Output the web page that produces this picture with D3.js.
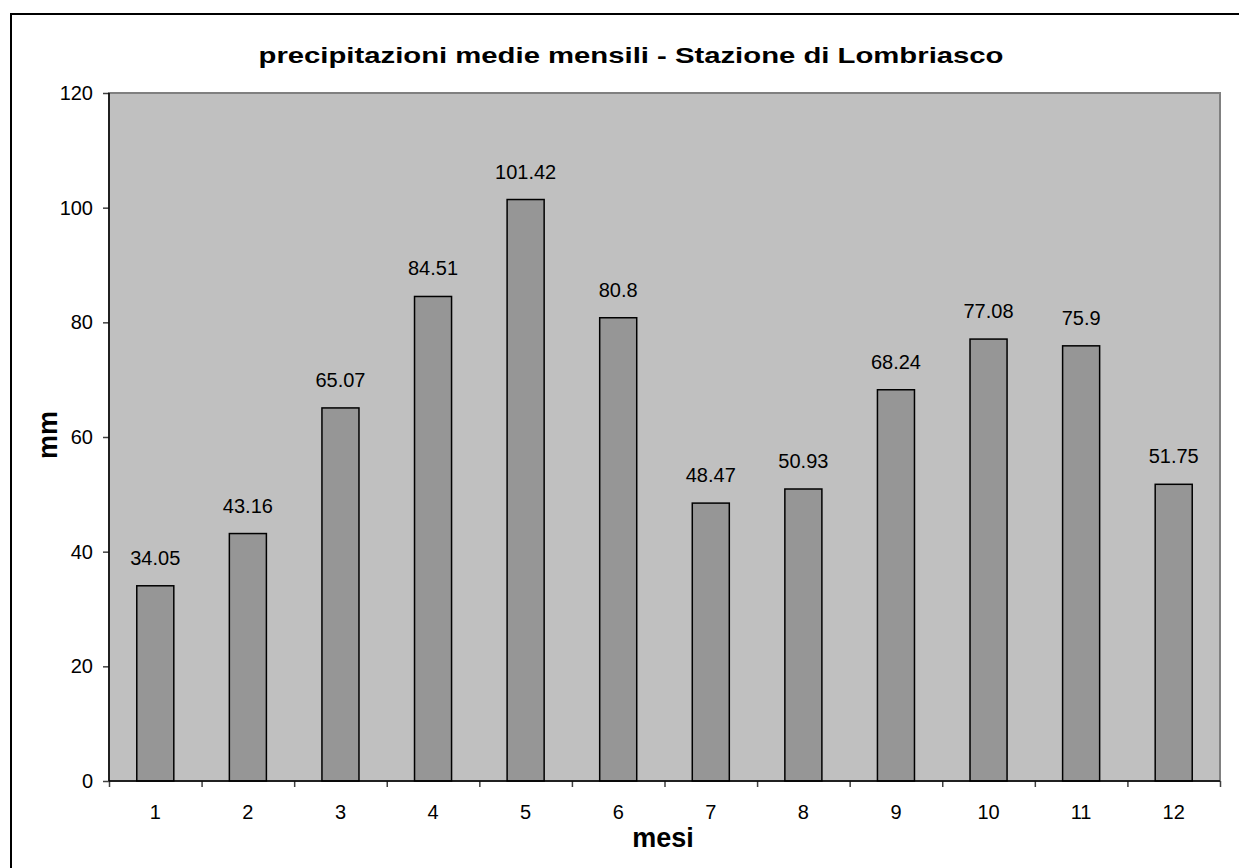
<!DOCTYPE html>
<html>
<head>
<meta charset="utf-8">
<script src="https://cdn.jsdelivr.net/npm/d3@7"></script>
<style>
    body { margin: 0; background: #ffffff; }
    text { font-family: 'Liberation Sans', Arial, sans-serif; fill: #000; }
</style>
</head>
<body>
<div id="graph"></div>
<script>
// The data...
var months    = [ '1', '2', '3', '4', '5', '6', '7', '8', '9', '10', '11', '12' ];
var rainfall  = [ 34.05, 43.16, 65.07, 84.51, 101.42, 80.8, 48.47, 50.93, 68.24, 77.08, 75.9, 51.75 ];
var rainLabel = [ '34.05', '43.16', '65.07', '84.51', '101.42', '80.8', '48.47', '50.93', '68.24', '77.08', '75.9', '51.75' ];
var yTicks    = [ 0, 20, 40, 60, 80, 100, 120 ];

var titleText = 'precipitazioni medie mensili - Stazione di Lombriasco';
var xTitle    = 'mesi';
var yTitle    = 'mm';

// SVG size and plot area
var W = 1239, H = 868;
var margin = { top: 93, right: 19, bottom: 87, left: 109 };
var width  = W - margin.left - margin.right;
var height = H - margin.top - margin.bottom;

var svg = d3.select('#graph').append('svg')
            .attr('width', W)
            .attr('height', H);

// outer chart frame (runs off the right and bottom edge)
svg.append('rect')
   .attr('x', 11).attr('y', 14)
   .attr('width', W).attr('height', H)
   .attr('fill', 'none')
   .attr('stroke', '#000')
   .attr('stroke-width', 2);

var g = svg.append('g')
           .attr('transform', 'translate(' + margin.left + ',' + margin.top + ')');

// scales
var xScale = d3.scaleBand()
               .domain(months)
               .range([0, width])
               .paddingInner(0.6)
               .paddingOuter(0.3);

var xEdge = d3.scaleLinear()
              .domain([0, months.length])
              .range([0, width]);

var yScale = d3.scaleLinear()
               .domain([0, 120])
               .range([height, 0]);

// plot area
g.append('rect')
 .attr('x', 0).attr('y', 0)
 .attr('width', width).attr('height', height)
 .attr('fill', '#c0c0c0')
 .attr('stroke', '#808080')
 .attr('stroke-width', 2);

// bars
g.selectAll('rect.bar')
 .data(rainfall)
 .enter()
 .append('rect')
 .attr('class', 'bar')
 .attr('x', function(d, i) { return xScale(months[i]); })
 .attr('y', function(d) { return yScale(d); })
 .attr('width', xScale.bandwidth())
 .attr('height', function(d) { return yScale(0) - yScale(d); })
 .attr('fill', '#969696')
 .attr('stroke', '#000')
 .attr('stroke-width', 1.5);

// value labels
g.selectAll('text.val')
 .data(rainfall)
 .enter()
 .append('text')
 .attr('class', 'val')
 .attr('x', function(d, i) { return xScale(months[i]) + xScale.bandwidth() / 2; })
 .attr('y', function(d) { return yScale(d) - 21; })
 .attr('text-anchor', 'middle')
 .attr('font-size', '20px')
 .text(function(d, i) { return rainLabel[i]; });

// y axis
var yAxis = d3.axisLeft(yScale)
              .tickValues(yTicks)
              .tickSize(6)
              .tickPadding(10);

var yG = g.append('g').call(yAxis);
yG.select('.domain').remove();
yG.selectAll('line').attr('stroke', '#404040').attr('stroke-width', 1.5);
yG.selectAll('text').attr('font-size', '20px').attr('font-family', null).attr('fill', '#000');

// x axis : ticks on category edges, labels in the middle
var xAxis = d3.axisBottom(xEdge)
              .ticks(months.length)
              .tickSize(6)
              .tickFormat('');

var xG = g.append('g')
          .attr('transform', 'translate(0,' + height + ')')
          .call(xAxis);
xG.select('.domain').remove();
xG.selectAll('line').attr('stroke', '#404040').attr('stroke-width', 1.5);

g.selectAll('text.xlab')
 .data(months)
 .enter()
 .append('text')
 .attr('class', 'xlab')
 .attr('x', function(d) { return xScale(d) + xScale.bandwidth() / 2; })
 .attr('y', height + 38)
 .attr('text-anchor', 'middle')
 .attr('font-size', '20px')
 .text(function(d) { return d; });

// axis lines
g.append('line')
 .attr('x1', 0).attr('x2', 0)
 .attr('y1', 0).attr('y2', height)
 .attr('stroke', '#000').attr('stroke-width', 1.5);

g.append('line')
 .attr('x1', 0).attr('x2', width)
 .attr('y1', height).attr('y2', height)
 .attr('stroke', '#000').attr('stroke-width', 1.5);

// titles
svg.append('text')
   .attr('x', 631).attr('y', 63)
   .attr('text-anchor', 'middle')
   .attr('font-size', '22px')
   .attr('font-weight', 'bold')
   .attr('textLength', 745)
   .attr('lengthAdjust', 'spacingAndGlyphs')
   .text(titleText);

svg.append('text')
   .attr('x', 663).attr('y', 847)
   .attr('text-anchor', 'middle')
   .attr('font-size', '27px')
   .attr('font-weight', 'bold')
   .text(xTitle);

svg.append('text')
   .attr('transform', 'translate(57,435) rotate(-90)')
   .attr('text-anchor', 'middle')
   .attr('font-size', '27px')
   .attr('font-weight', 'bold')
   .text(yTitle);
</script>
</body>
</html>
